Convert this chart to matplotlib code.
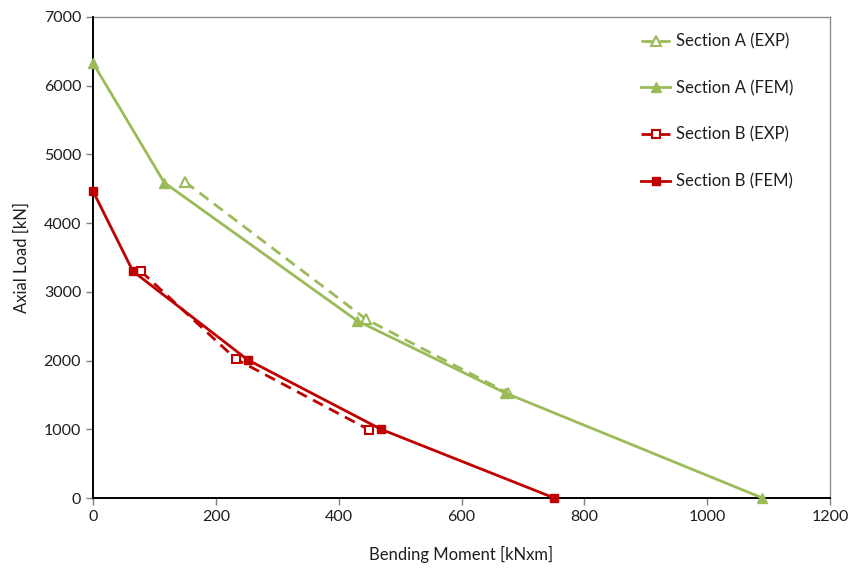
import matplotlib.pyplot as plt

# Interaction diagram: axial load vs bending moment
a_exp_m = [150, 445, 675]
a_exp_n = [4600, 2600, 1530]
a_fem_m = [0, 116, 430, 671, 1090]
a_fem_n = [6330, 4590, 2580, 1530, 0]
b_exp_m = [78, 233, 449]
b_exp_n = [3300, 2020, 995]
b_fem_m = [0, 65, 252, 469, 751]
b_fem_n = [4465, 3300, 2010, 1000, 0]

GREEN = "#9BBB59"
RED = "#C00000"
TEXT = "#1e1e1e"

plt.rcParams["font.family"] = ["Lato", "DejaVu Sans"]

fig = plt.figure(figsize=(8.53, 5.69), dpi=100)
ax = fig.add_axes([93 / 853, 1 - 498 / 569, 737 / 853, 481 / 569])

ax.plot(a_exp_m, a_exp_n, color=GREEN, lw=2, ls=(0, (4, 2.5)), marker="^",
        ms=7, mfc="white", mec=GREEN, mew=1.5, label="Section A (EXP)",
        clip_on=False, zorder=4)
ax.plot(a_fem_m, a_fem_n, color=GREEN, lw=2, marker="^", ms=7,
        mfc=GREEN, mec=GREEN, label="Section A (FEM)",
        clip_on=False, zorder=4)
ax.plot(b_exp_m, b_exp_n, color=RED, lw=2, ls=(0, (4, 2.5)), marker="s",
        ms=6, mfc="white", mec=RED, mew=1.5, label="Section B (EXP)",
        clip_on=False, zorder=4)
ax.plot(b_fem_m, b_fem_n, color=RED, lw=2, marker="s", ms=5.5,
        mfc=RED, mec=RED, label="Section B (FEM)",
        clip_on=False, zorder=4)

ax.set_xlim(0, 1200)
ax.set_ylim(0, 7000)
ax.set_xticks(range(0, 1201, 200))
ax.set_yticks(range(0, 7001, 1000))
ax.set_xlabel("Bending Moment [kNxm]", fontsize=12, color=TEXT, labelpad=16)
ax.set_ylabel("Axial Load [kN]", fontsize=12, color=TEXT, labelpad=10)
ax.tick_params(labelsize=11.5, labelcolor=TEXT, length=5, width=1,
               color="#808080")

# gray plot-area frame on top/right, black value axes
for side in ("top", "right"):
    ax.spines[side].set_linewidth(1)
    ax.spines[side].set_color("#8c8c8c")
for side in ("left", "bottom"):
    ax.spines[side].set_linewidth(1.4)
    ax.spines[side].set_color("black")
    ax.spines[side].set_zorder(3)

ax.legend(loc="upper left", bbox_to_anchor=(0.7436, 0.966), frameon=False,
          fontsize=12, handlelength=1.75, labelspacing=1.83,
          handletextpad=0.35, borderpad=0, borderaxespad=0,
          labelcolor=TEXT)

fig.savefig("out.png", dpi=100)
